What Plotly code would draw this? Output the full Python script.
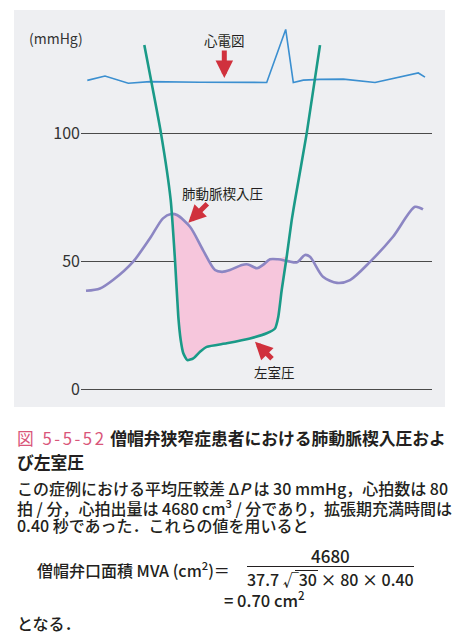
import plotly.graph_objects as go

W, H = 474, 635

# ---- data (time in arbitrary units, pressure in mmHg) ----
ecg_t = [87.3, 105, 128.3, 150, 200, 266.7, 285.7, 293.3, 303.3, 320, 343.3, 375, 418.3, 425]
ecg_v = [120.7, 122.4, 119.6, 120.2, 120.0, 119.9, 140.6, 119.9, 120.8, 121.1, 121.2, 119.9, 123.6, 122.0]

pcwp_t = [86, 100, 113, 133, 150, 163, 171, 177, 190, 203, 215, 222, 230, 242, 248, 257, 263,
          270, 278, 288, 297, 305, 310, 323, 337, 350, 370, 393, 415, 423]
pcwp_v = [38.5, 39.4, 42.7, 49.8, 59.0, 66.8, 68.5, 68.1, 63.5, 54.4, 46.6, 45.9, 46.6, 48.6, 48.8,
          47.3, 48.6, 50.8, 50.8, 50.1, 49.6, 52.5, 51.8, 44.0, 41.6, 42.7, 49.8, 59.6, 71.3, 70.3]

lv_t = [144.3, 161, 170.7, 175, 178.3, 180.7, 183.3, 187.3, 193.3, 200, 206.7, 226.7, 250, 266.7,
        275, 278.3, 281.7, 286.7, 291.7, 295, 306.7, 320]
lv_v = [134.5, 100, 73.9, 50.5, 28.4, 19.3, 14.1, 11.4, 12.1, 14.7, 16.6, 18.0, 19.9, 21.9,
        23.8, 28.4, 38.8, 51.8, 66.1, 73.9, 100, 134.5]

y_ticks = [0, 50, 100]
y_tick_labels = ["0", "50", "100"]

# ---- colours ----
C_ECG = "#3b8fd0"
C_PCWP = "#8c86c3"
C_LV = "#1a9a88"
C_FILL = "#f6c6dc"
C_RED = "#d0313d"
C_PINK = "#d9567a"
C_TXT = "#231f20"
C_PANEL = "#eeeff2"

FONT = "Noto Sans CJK JP"

# shaded region: PCWP above LV between the two crossings
fill_t = [t for t in pcwp_t if 171 <= t <= 278]
fill_v = [v for t, v in zip(pcwp_t, pcwp_v) if 171 <= t <= 278]
lv_seg = [(t, v) for t, v in zip(lv_t, lv_v) if 170 <= t <= 287]
fill_t += [t for t, v in reversed(lv_seg)]
fill_v += [v for t, v in reversed(lv_seg)]

fig = go.Figure()
fig.add_trace(go.Scatter(x=fill_t, y=fill_v, fill="toself", fillcolor=C_FILL,
                         mode="lines", line=dict(width=0, shape="spline", smoothing=0.6),
                         hoverinfo="skip"))
fig.add_trace(go.Scatter(x=ecg_t, y=ecg_v, mode="lines", line=dict(color=C_ECG, width=1.6)))
fig.add_trace(go.Scatter(x=pcwp_t, y=pcwp_v, mode="lines",
                         line=dict(color=C_PCWP, width=2.6, shape="spline", smoothing=0.8)))
fig.add_trace(go.Scatter(x=lv_t, y=lv_v, mode="lines",
                         line=dict(color=C_LV, width=2.6, shape="spline", smoothing=0.5)))


def px(x):
    return x / W


def py(y):
    return 1 - y / H


ann = []
shapes = []

# grey panel
shapes.append(dict(type="rect", xref="paper", yref="paper", x0=px(14), x1=px(445),
                   y0=py(407), y1=py(10), fillcolor=C_PANEL, line=dict(width=0), layer="below"))


def txt(s, x, y, size=16, anchor="left", color=C_TXT, weight="normal"):
    ann.append(dict(text=s, x=px(x), y=py(y), xref="paper", yref="paper", xanchor=anchor,
                    yanchor="middle", showarrow=False,
                    font=dict(size=size, color=color, family=FONT, weight=weight)))


txt("(mmHg)", 27, 38, size=14, color="#333")

# chart labels
txt("心電図", 224.5, 40, size=13.5, anchor="center")
txt("肺動脈楔入圧", 222.5, 192.5, size=13.5, anchor="center")
txt("左室圧", 274, 371.5, size=13.5, anchor="center")

# red arrows (tip, tail offset in px)
for tip, off in [((224.3, 78), (0, -29)), ((188.3, 222.7), (20.5, -20.5)), ((255, 341.7), (18.5, 18.5))]:
    ann.append(dict(text="", x=px(tip[0]), y=py(tip[1]), xref="paper", yref="paper",
                    ax=off[0], ay=off[1], showarrow=True, arrowhead=2, arrowsize=0.7,
                    arrowwidth=5, arrowcolor=C_RED, standoff=0))

# caption and body text
txt('<span style="color:%s;letter-spacing:2.5px">図 5-5-52</span> <b>僧帽弁狭窄症患者における肺動脈楔入圧およ</b>' % C_PINK,
    15, 438, size=16.8)
txt("<b>び左室圧</b>", 15, 462, size=16.8)
txt("この症例における平均圧較差 Δ<i>P</i> は 30 mmHg，心拍数は 80", 15, 488, weight=500)
txt("拍 / 分，心拍出量は 4680 cm<sup>3</sup> / 分であり，拡張期充満時間は", 15, 507, weight=500)
txt("0.40 秒であった．これらの値を用いると", 15, 525, weight=500)
txt("僧帽弁口面積 MVA (cm<sup>2</sup>)＝", 232, 569, anchor="right", weight=500)
txt("4680", 330, 555, size=17, anchor="center", weight=500)
txt("37.7 √30 × 80 × 0.40", 330, 579, anchor="center", weight=500)
txt("= 0.70 cm<sup>2</sup>", 222, 599, size=16.5, weight=500)
txt("となる．", 15, 623, weight=500)

# fraction bar and radical overline
shapes.append(dict(type="line", xref="paper", yref="paper", x0=px(247), x1=px(414),
                   y0=py(566.5), y1=py(566.5), line=dict(color=C_TXT, width=1.2)))
shapes.append(dict(type="line", xref="paper", yref="paper", x0=px(295), x1=px(318),
                   y0=py(570.5), y1=py(570.5), line=dict(color=C_TXT, width=1)))

fig.update_layout(
    width=W, height=H, margin=dict(l=0, r=0, t=0, b=0),
    paper_bgcolor="white", plot_bgcolor=C_PANEL, showlegend=False,
    annotations=ann, shapes=shapes,
    xaxis=dict(domain=[px(81), px(432)], range=[81, 432], visible=False, fixedrange=True),
    yaxis=dict(domain=[py(407), py(10)], range=[-6.9, 148.2], tickvals=y_ticks,
               ticktext=y_tick_labels, showgrid=True, gridcolor="#4a4a4a", gridwidth=1.3,
               zeroline=False, showline=False, ticks="",
               tickfont=dict(size=16, color="#333", family=FONT), fixedrange=True),
)

fig.write_html("out.html")
